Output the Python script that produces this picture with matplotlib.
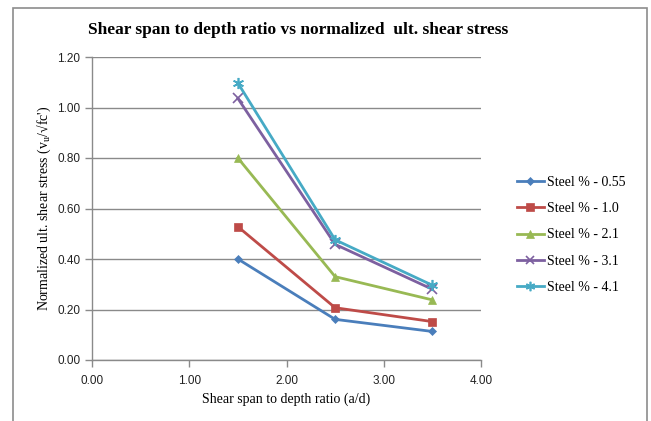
import matplotlib.pyplot as plt
from matplotlib.patches import Rectangle

# shear span to depth ratio
ad = [1.5, 2.5, 3.5]

steel_055 = [0.40, 0.161, 0.113]
steel_10 = [0.528, 0.207, 0.152]
steel_21 = [0.80, 0.33, 0.238]
steel_31 = [1.036, 0.458, 0.28]
steel_41 = [1.097, 0.476, 0.296]

labels = ["Steel % - 0.55", "Steel % - 1.0", "Steel % - 2.1", "Steel % - 3.1", "Steel % - 4.1"]
colors = ["#4A7EBB", "#BE4B48", "#98B954", "#7D60A0", "#46AAC5"]
markers = ["D", "s", "^", "x", (6, 2, 0)]
msizes = [4.5, 6, 6, 7, 8]

fig = plt.figure(figsize=(6.51, 4.21), dpi=100)
# outer chart border
fig.patches.append(Rectangle((13 / 651, -0.1), (647 - 13) / 651, 1.1 - 8 / 421,
                             transform=fig.transFigure, fill=False,
                             edgecolor="#8c8c8c", linewidth=1.2))

ax = fig.add_axes([92 / 651, (421 - 360) / 421, (481 - 92) / 651, (360 - 57) / 421])

series = [steel_055, steel_10, steel_21, steel_31, steel_41]
for vals, lab, c, m, ms in zip(series, labels, colors, markers, msizes):
    ax.plot(ad, vals, color=c, marker=m, markersize=ms, linewidth=2,
            markeredgewidth=1.2 if m in ("x", (6, 2, 0)) else 0.5, label=lab)

ax.set_xlim(0, 4)
ax.set_ylim(0, 1.2)
ax.set_xticks([0, 1, 2, 3, 4])
ax.set_yticks([0, 0.2, 0.4, 0.6, 0.8, 1.0, 1.2])
ax.set_xticklabels(["%.2f" % v for v in [0, 1, 2, 3, 4]])
ax.set_yticklabels(["%.2f" % v for v in [0, 0.2, 0.4, 0.6, 0.8, 1.0, 1.2]])
ax.yaxis.grid(True, color="#8a8a8a", linewidth=1)
ax.set_axisbelow(True)
for s in ["top", "right"]:
    ax.spines[s].set_visible(False)
for s in ["left", "bottom"]:
    ax.spines[s].set_color("#8a8a8a")
    ax.spines[s].set_linewidth(1)
ax.tick_params(colors="#8a8a8a", length=5, width=1, labelcolor="#222222",
               labelsize=8.5, direction="out")
ax.tick_params(axis="x", pad=6)
for t in ax.get_xticklabels() + ax.get_yticklabels():
    t.set_family("Liberation Sans")

ax.set_xlabel("Shear span to depth ratio (a/d)", family="Liberation Serif",
              fontsize=10, labelpad=4)
ax.set_ylabel(r"Normalized ult. shear stress (v$_\mathregular{u}$/√fc')",
              family="Liberation Serif", fontsize=10, labelpad=3)

fig.text(88 / 651, 1 - 30 / 421, "Shear span to depth ratio vs normalized  ult. shear stress",
         family="Liberation Serif", fontweight="bold", fontsize=12.5, va="center")

fig.legend(loc="center left", bbox_to_anchor=(504 / 651, 1 - 235 / 421),
           frameon=False, prop={"family": "Liberation Serif", "size": 10},
           handlelength=2.0, handletextpad=0.2, labelspacing=0.95,
           markerscale=0.85)

fig.savefig("out.png", dpi=100)
